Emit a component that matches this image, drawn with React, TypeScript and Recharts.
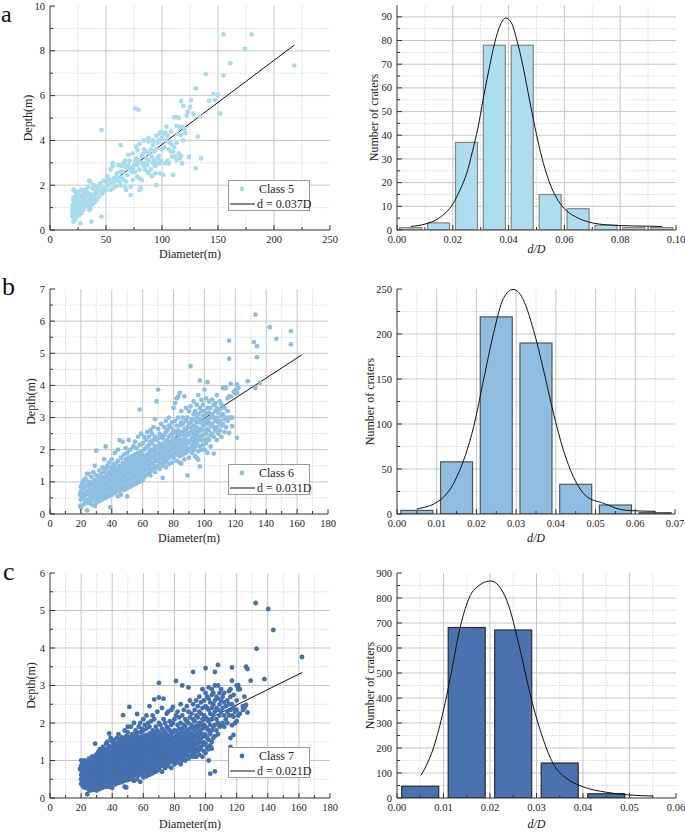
import React from 'react';
import { ComposedChart, Scatter, Line, Bar, XAxis, YAxis, ReferenceLine, Legend } from 'recharts';

// ---------------- data ----------------
// Class 5 (panel a) scatter: [Diameter m, Depth m]
const class5Points: [number, number][] = [
  [155,8.73],[180,8.73],[174,8.08],[218,7.34],[161,7.44],[139,6.96],[155,6.9],[130,6.32],[146,6.07],[150,6.03],
  [147,5.8],[142,5.77],[126,5.8],[117,5.76],[119,5.54],[152,5.2],[134,5.06],[123,5.28],[111,5.03],[113,5.05],
  [113,4.64],[118,4.6],[121,4.32],[117,4.24],[132,4.17],[108,4.39],[104,4.61],[98,4.32],[99,4.38],[101,4.3],
  [95,4.2],[92,4.0],[88,4.1],[84,4.0],[80,3.85],[77,3.72],[78,3.57],[76,5.43],[79,5.36],[46,4.46],
  [63,3.79],[86,3.5],[95,3.6],[92,3.8],[91,3.27],[97,3.3],[98,2.98],[103,2.98],[95,2.98],[94,2.85],
  [92,2.98],[88,3.1],[85,2.98],[82,2.98],[79,3.1],[77,3.2],[74,3.42],[71,3.1],[70,3.35],[67,3.1],
  [66,2.98],[64,2.85],[61,2.9],[56,2.98],[56,2.85],[60,2.53],[54,2.7],[50,2.16],[51,2.4],[48,2.2],
  [45,2.08],[42,1.93],[39,2.0],[36,2.16],[34,1.93],[33,1.7],[32,1.64],[30,1.64],[28,1.56],[27,1.34],
  [25,1.2],[24,1.4],[23,1.26],[22,1.04],[21,1.3],[20,0.9],[22,0.74],[22,0.45],[21,0.37],[20,0.6],
  [27,0.3],[46,0.6],[37,0.37],[30,0.9],[34,1.04],[35,0.89],[38,1.3],[41,1.4],[44,1.5],[47,1.64],
  [50,1.79],[54,1.79],[58,2.16],[62,2.16],[66,2.23],[68,2.16],[72,1.56],[68,1.79],[67,1.93],[72,1.93],
  [74,2.23],[78,2.38],[80,2.3],[82,2.23],[81,1.86],[80,1.79],[85,2.68],[88,2.53],[91,2.4],[95,2.0],
  [94,2.53],[98,2.53],[101,2.46],[106,2.98],[109,3.27],[112,3.27],[110,3.5],[109,3.8],[106,3.6],[115,3.42],
  [116,3.2],[117,3.3],[113,3.12],[118,2.98],[124,3.27],[130,2.75],[135,3.2],[110,2.46],
  [57,2.3],[59,2.4],[63,2.0],[65,2.6],[68,2.8],[70,2.9],[73,2.6],[75,2.9],[76,3.1],[82,3.3],
  [84,3.6],[86,3.2],[87,2.9],[89,3.4],[90,3.6],[93,3.5],[96,3.9],[100,3.6],[102,3.7],[104,4.0],
  [107,3.9],[100,4.1],[97,4.0],[88,3.95],[83,3.4],[80,2.7],[78,2.9],[76,2.6],[63,2.6],[61,2.3],
  [55,2.1],[52,2.0],[49,1.9],[47,1.8],[45,1.7],[43,1.75],[40,1.6],[39,1.5],[37,1.45],[36,1.6],
  [35,1.3],[33,1.5],[32,1.3],[31,1.45],[30,1.2],[29,1.35],[28,1.1],[27,1.0],[26,1.25],[25,0.95],
  [24,1.1],[23,0.85],[22,1.2],[21,1.45],[20,1.1],[20,0.75],[21,0.95],[22,0.6],[23,0.55],[24,0.7],
  [25,0.8],[26,0.65],[27,0.85],[28,0.75],[29,0.95],[31,1.05],[33,1.15],[35,1.1],[36,0.95],[38,1.15],
  [40,1.25],[42,1.35],[26,1.45],[24,1.55],[23,1.65],[22,1.75],[21,1.8],[25,1.7],[27,1.55],[28,1.8],
  [30,1.75],[29,1.5],[32,1.8],[35,2.2],[38,1.85],[41,1.75],[44,1.95],[53,2.25],[56,1.85],[59,1.95],
  [64,2.35],[69,2.45],[71,2.7],[74,2.75],[84,2.85],[87,2.6],[90,2.7],[93,3.1],[96,3.2],[99,3.1],
  [105,3.1],[108,3.5],[111,3.7],[113,3.9],[114,4.3],[116,4.6],[120,4.5],[119,4.0],[122,5.1],[125,5.5],
  [128,5.2],[115,5.0],[105,4.2],[103,4.35]
];
const class5Fit: [number, number][] = [[19.6, 0.8], [218, 8.25]];

// Class 6 (panel b): rows of [Diameter, depths at that diameter]
const class6Rows: [number, number[]][] = [
  [19.5,[0.25,0.6]],[20,[0.2,0.45,0.7,0.85]],[21,[0.5,0.65,0.95]],[22,[0.3,0.55,0.8,1.05]],[23,[0.4,0.65,0.9,1.1]],
  [24,[0.11,0.45,0.7,1.25]],[25,[0.35,0.6,0.85,1.0,1.25]],[26,[0.4,0.55,0.75,0.95]],[27,[0.3,0.5,0.7,0.9,1.15]],
  [28,[0.45,0.6,0.8,1.0,1.3]],[29,[0.25,0.5,0.65,0.85,1.05,1.5]],[30,[0.35,0.55,0.75,0.95,1.2,1.97]],
  [31,[0.45,0.6,0.8,1.0,1.15]],[32,[0.4,0.55,0.7,0.9,1.1,1.35]],[33,[0.5,0.65,0.85,1.05,1.25]],
  [34,[0.45,0.6,0.8,0.95,1.15,1.45]],[35,[0.55,0.7,0.9,1.1,1.3,1.7]],[36,[0.5,0.75,0.95,1.15,1.4,2.1]],
  [37,[0.6,0.8,1.0,1.2,1.5]],[38,[0.55,0.75,0.9,1.1,1.3,1.6]],[39,[0.21,0.65,0.85,1.05,1.25,1.45]],
  [40,[0.6,0.8,1.0,1.2,1.4,1.7]],[41,[0.7,0.9,1.1,1.3,1.55]],[42,[0.65,0.85,1.05,1.25,1.45,1.9]],
  [43,[0.75,0.95,1.15,1.35,1.6]],[44,[0.55,0.8,1.0,1.2,1.4,1.65,2.0]],[45,[0.7,0.9,1.1,1.3,1.5,2.3]],
  [46,[0.6,0.85,1.05,1.25,1.45,1.75]],[47,[0.8,1.0,1.2,1.4,1.6,2.25]],[48,[0.75,0.95,1.15,1.35,1.55,1.85]],
  [49,[0.85,1.05,1.25,1.45,1.7,2.05]],[50,[0.55,0.8,1.0,1.2,1.4,1.6,1.9]],[51,[0.9,1.1,1.3,1.5,1.75,2.3]],
  [52,[0.85,1.05,1.25,1.45,1.65,2.0]],[53,[0.95,1.15,1.35,1.55,1.8]],[54,[0.9,1.1,1.3,1.5,1.7,2.1]],
  [55,[1.0,1.2,1.4,1.6,1.85,2.25]],[56,[0.95,1.15,1.35,1.55,1.75,2.05]],[57,[1.05,1.25,1.45,1.65,1.9,2.4]],
  [58,[1.0,1.2,1.4,1.6,1.8,2.15,3.25]],[59,[1.1,1.3,1.5,1.7,1.95,2.5]],[60,[1.05,1.25,1.45,1.65,1.85,2.2]],
  [61,[1.15,1.35,1.55,1.75,2.0,2.4]],[62,[1.2,1.4,1.6,1.8,2.05,2.3]],[63,[1.25,1.45,1.65,1.85,2.1,2.55]],
  [64,[1.3,1.5,1.7,1.9,2.15,2.4]],[65,[1.2,1.4,1.6,1.8,2.0,2.25,2.6]],[66,[1.35,1.55,1.75,1.95,2.2,2.5]],
  [67,[1.4,1.6,1.8,2.0,2.3,2.7]],[68,[1.3,1.5,1.7,1.9,2.1,2.4,2.95]],[69,[1.45,1.65,1.85,2.05,2.3,3.5]],
  [70,[1.5,1.7,1.9,2.1,2.35,2.65,3.87]],[71,[1.4,1.6,1.8,2.0,2.2,2.5]],[72,[1.55,1.75,1.95,2.15,2.4,2.8]],
  [73,[1.12,1.5,1.7,1.9,2.1,2.35]],[74,[1.6,1.8,2.0,2.2,2.45,2.7]],[75,[1.45,1.65,1.85,2.05,2.25,2.55,2.9]],
  [76,[1.7,1.9,2.1,2.3,2.6]],[77,[1.55,1.75,1.95,2.15,2.4,2.75,3.0]],[78,[1.8,2.0,2.2,2.45,2.7]],
  [79,[1.6,1.85,2.05,2.25,2.5,2.85]],[80,[1.75,1.95,2.15,2.35,2.6,3.3]],[81,[1.9,2.1,2.3,2.55,2.9,3.45]],
  [82,[1.65,1.85,2.05,2.25,2.5,2.75,3.6]],[83,[1.95,2.15,2.35,2.6,3.0,3.65]],[84,[1.6,1.8,2.0,2.2,2.45,2.75,3.77]],
  [85,[1.57,1.9,2.1,2.3,2.55,2.85,3.2]],[86,[1.85,2.05,2.25,2.5,2.8,3.0]],[87,[1.7,2.0,2.2,2.4,2.65,3.66]],
  [88,[1.9,2.1,2.3,2.55,2.9,3.3]],[89,[1.2,1.95,2.2,2.45,2.7,3.0]],[90,[1.75,2.0,2.25,2.5,2.8,3.2]],
  [91,[2.05,2.3,2.55,2.85,3.35,4.6]],[92,[1.9,2.15,2.4,2.65,2.95]],[93,[2.0,2.25,2.5,2.75,3.1,3.5]],
  [94,[1.8,2.1,2.35,2.6,2.9,3.2]],[95,[1.75,2.2,2.45,2.7,3.0,3.4]],[96,[1.69,1.95,2.3,2.55,2.85,3.1,3.7]],
  [97,[1.48,2.1,2.4,2.65,2.95,3.3,4.15]],[98,[2.0,2.3,2.6,2.85,3.2,3.55]],[99,[2.15,2.45,2.75,3.05,3.4]],
  [100,[2.0,2.3,2.6,2.9,3.2,3.87]],[101,[2.2,2.5,2.8,3.1,3.6]],[102,[1.9,2.35,2.65,2.95,3.3,4.1]],
  [103,[2.3,2.6,2.85,3.15,3.5]],[104,[2.1,2.45,2.75,3.0,3.3]],[105,[2.5,2.8,3.1,3.56]],
  [106,[1.88,2.4,2.7,3.0,3.4]],[107,[2.6,2.9,3.2,3.45]],[108,[2.3,2.7,3.0,3.3,3.7]],[109,[2.5,2.85,3.15]],
  [110,[2.6,2.9,3.25,3.5]],[111,[2.4,2.75,3.05,3.4]],[112,[2.8,3.1,3.92]],[113,[2.55,2.95,3.3,3.92]],
  [114,[2.7,3.0,3.92]],[115,[2.9,3.2,3.6]],[116,[2.52,3.0,3.66,4.83,5.39]],[117,[3.0,3.66,4.05]],
  [118,[2.73,3.0]],[119,[3.8]],[120,[3.75,3.85]],[121,[2.37,3.77,4.03]],[122,[3.92]],[128,[4.13]],
  [132,[5.35]],[133,[6.2,3.92]],[134,[5.22,4.88]],[136,[4.08]],[142.3,[5.81]],[146.6,[5.45]],[156,[5.28,5.69]]
];
const class6Fit: [number, number][] = [[20.5, 0.49], [163, 4.95]];

// Class 7 (panel c): rows of [Diameter, depths at that diameter]
const class7Rows: [number, number[]][] = [
  [19.3,[0.78]],[20,[0.38,0.5,0.62,0.74,0.86,1.0]],[21,[0.32,0.44,0.56,0.68,0.8,0.92]],
  [22,[0.28,0.4,0.52,0.64,0.76,0.88,1.0]],[23,[0.34,0.46,0.58,0.7,0.82,0.94]],
  [24,[0.1,0.26,0.38,0.5,0.62,0.74,0.86,0.98]],[25,[0.22,0.34,0.46,0.58,0.7,0.82,0.94,1.05]],
  [26,[0.2,0.32,0.44,0.56,0.68,0.8,0.92,1.04]],[27,[0.26,0.38,0.5,0.62,0.74,0.86,0.98,1.1]],
  [28,[0.22,0.34,0.46,0.58,0.7,0.82,0.94,1.06]],[29,[0.28,0.4,0.52,0.64,0.76,0.88,1.0,1.12,1.45]],
  [30,[0.2,0.32,0.44,0.56,0.68,0.8,0.92,1.04,1.16]],[31,[0.26,0.38,0.5,0.62,0.74,0.86,0.98,1.1,1.22]],
  [32,[0.24,0.36,0.48,0.6,0.72,0.84,0.96,1.08,1.2,1.3]],[33,[0.3,0.42,0.54,0.66,0.78,0.9,1.02,1.14,1.26]],
  [34,[0.28,0.4,0.52,0.64,0.76,0.88,1.0,1.12,1.24,1.36]],[35,[0.34,0.46,0.58,0.7,0.82,0.94,1.06,1.18,1.3]],
  [36,[0.3,0.42,0.54,0.66,0.78,0.9,1.02,1.14,1.26,1.45]],[37,[0.36,0.48,0.6,0.72,0.84,0.96,1.08,1.2,1.32,1.5]],
  [38,[0.3,0.42,0.54,0.66,0.78,0.9,1.02,1.14,1.26,1.38,1.72]],[39,[0.36,0.48,0.6,0.72,0.84,0.96,1.08,1.2,1.32,1.6]],
  [40,[0.27,0.4,0.52,0.64,0.76,0.88,1.0,1.12,1.24,1.36,1.5]],[41,[0.46,0.58,0.7,0.82,0.94,1.06,1.18,1.3,1.42,1.55]],
  [42,[0.36,0.5,0.62,0.74,0.86,0.98,1.1,1.22,1.34,1.46]],[43,[0.44,0.56,0.68,0.8,0.92,1.04,1.16,1.28,1.4,1.6]],
  [44,[0.4,0.52,0.64,0.76,0.88,1.0,1.12,1.24,1.36,1.48,1.7]],[45,[0.48,0.6,0.72,0.84,0.96,1.08,1.2,1.32,1.44,1.56]],
  [46,[0.42,0.54,0.66,0.78,0.9,1.02,1.14,1.26,1.38,1.5,1.62]],[47,[0.5,0.62,0.74,0.86,0.98,1.1,1.22,1.34,1.46,1.58,2.21]],
  [48,[0.3,0.46,0.58,0.7,0.82,0.94,1.06,1.18,1.3,1.42,1.54,1.8]],[49,[0.28,0.52,0.64,0.76,0.88,1.0,1.12,1.24,1.36,1.48,1.65]],
  [50,[0.48,0.6,0.72,0.84,0.96,1.08,1.2,1.32,1.44,1.56,1.75,1.9]],[51,[0.55,0.67,0.79,0.91,1.03,1.15,1.27,1.39,1.51,1.63,2.43]],
  [52,[0.5,0.62,0.74,0.86,0.98,1.1,1.22,1.34,1.46,1.58,1.9]],[53,[0.56,0.68,0.8,0.92,1.04,1.16,1.28,1.4,1.52,1.7]],
  [54,[0.46,0.6,0.72,0.84,0.96,1.08,1.2,1.32,1.44,1.56,1.68,2.0]],[55,[0.62,0.74,0.86,0.98,1.1,1.22,1.34,1.46,1.58,1.8]],
  [56,[0.5,0.66,0.78,0.9,1.02,1.14,1.26,1.38,1.5,1.62,1.74,2.24]],[57,[0.6,0.72,0.84,0.96,1.08,1.2,1.32,1.44,1.56,1.9]],
  [58,[0.43,0.66,0.78,0.9,1.02,1.14,1.26,1.38,1.5,1.62,1.75,2.0]],[59,[0.64,0.76,0.88,1.0,1.12,1.24,1.36,1.48,1.6,1.85]],
  [60,[0.55,0.7,0.82,0.94,1.06,1.18,1.3,1.42,1.54,1.66,1.8,2.1]],[61,[0.68,0.8,0.92,1.04,1.16,1.28,1.4,1.52,1.64,1.95]],
  [62,[0.58,0.72,0.84,0.96,1.08,1.2,1.32,1.44,1.56,1.68,1.85,2.2]],[63,[0.7,0.82,0.94,1.06,1.18,1.3,1.42,1.54,1.66,2.0]],
  [64,[0.62,0.76,0.88,1.0,1.12,1.24,1.36,1.48,1.6,1.72,1.9,2.45]],[65,[0.74,0.86,0.98,1.1,1.22,1.34,1.46,1.58,1.7,2.05]],
  [66,[0.66,0.8,0.92,1.04,1.16,1.28,1.4,1.52,1.64,1.8,2.2]],[67,[0.76,0.9,1.02,1.14,1.26,1.38,1.5,1.62,1.75,2.1,2.63]],
  [68,[0.7,0.84,0.96,1.08,1.2,1.32,1.44,1.56,1.7,1.9]],[69,[0.8,0.94,1.06,1.18,1.3,1.42,1.54,1.66,1.8,2.3]],
  [70,[0.75,0.88,1.0,1.12,1.24,1.36,1.48,1.6,1.75,2.0,2.68,3.07]],[71,[0.84,0.98,1.1,1.22,1.34,1.46,1.58,1.72,1.95]],
  [72,[0.7,0.9,1.04,1.16,1.28,1.4,1.52,1.66,1.85,2.4]],[73,[0.86,1.0,1.14,1.26,1.38,1.5,1.64,1.8,2.1,2.65]],
  [74,[0.8,0.94,1.08,1.2,1.32,1.44,1.58,1.75,2.0]],[75,[0.9,1.04,1.18,1.3,1.42,1.56,1.7,1.9,2.25]],
  [76,[0.85,1.0,1.12,1.24,1.36,1.5,1.65,1.85,2.3]],[77,[0.95,1.08,1.2,1.32,1.46,1.6,1.8,2.05]],
  [78,[0.8,0.98,1.12,1.26,1.4,1.54,1.7,1.95,2.35]],[79,[1.0,1.14,1.28,1.42,1.56,1.75,2.0,2.43]],
  [80,[0.9,1.04,1.18,1.32,1.46,1.6,1.8,2.1]],[81,[1.0,1.14,1.3,1.45,1.6,1.78,2.2,3.12]],
  [82,[0.95,1.1,1.24,1.38,1.52,1.7,1.95,2.3]],[83,[1.05,1.2,1.35,1.5,1.65,1.85,2.15]],
  [84,[0.9,1.1,1.26,1.42,1.58,1.75,2.0,2.5]],[85,[1.0,1.16,1.32,1.48,1.64,1.85,2.2,3.0]],
  [86,[1.1,1.26,1.42,1.58,1.76,1.95,2.35]],[87,[1.0,1.2,1.36,1.52,1.7,1.9,2.1]],
  [88,[1.15,1.3,1.46,1.62,1.8,2.05,2.45]],[89,[1.05,1.24,1.4,1.56,1.74,2.0,2.3,2.95]],
  [90,[1.1,1.3,1.48,1.66,1.85,2.15,2.6]],[91,[1.2,1.36,1.54,1.72,1.95,2.25]],
  [92,[1.1,1.28,1.46,1.64,1.85,2.1,2.5,3.36]],[93,[1.2,1.4,1.6,1.8,2.05,2.35]],
  [94,[1.1,1.3,1.5,1.7,1.92,2.2,2.6]],[95,[1.25,1.45,1.65,1.88,2.15,2.45]],
  [96,[1.15,1.35,1.56,1.78,2.0,2.3,2.7]],[97,[1.3,1.5,1.72,1.95,2.25,2.55]],
  [98,[1.1,1.4,1.62,1.85,2.1,2.4,2.9]],[99,[1.25,1.48,1.7,1.95,2.2,2.6]],
  [100,[1.2,1.45,1.68,1.9,2.15,2.45,2.8,3.46]],[101,[1.35,1.6,1.85,2.1,2.4,2.7]],
  [102,[1.0,1.3,1.55,1.8,2.05,2.35,2.65,2.95]],[103,[0.65,1.4,1.7,1.95,2.25,2.55]],
  [104,[1.32,1.5,1.8,2.1,2.4,2.75,2.9]],[105,[1.6,1.9,2.2,2.5,2.8]],
  [106,[0.71,1.65,1.95,2.3,2.6,3.0,3.36]],[107,[1.8,2.1,2.4,2.7]],[108,[1.7,2.0,2.35,2.65,3.0,3.55]],
  [109,[1.9,2.2,2.5,2.8]],[110,[1.95,2.3,2.6,2.9]],[111,[2.0,2.4,2.7]],[112,[1.9,2.2,2.55,2.8]],
  [113,[2.1,2.45]],[114,[2.0,2.3,2.6]],[115,[2.2,2.5,2.85]],[116,[1.36,1.6,2.35,2.7,2.9]],
  [117,[1.94,2.2,2.5,3.13,3.48]],[118,[1.68,2.17,2.4,2.75]],[119,[2.0,2.3]],[120,[2.05,2.35,2.6,3.0]],
  [121,[2.2,2.9,3.01]],[122,[2.25,2.9]],[124,[2.35,2.45]],[125,[2.4,2.7]],[126,[2.48,3.5]],[127,[2.28,3.44]],
  [129,[3.13]],[132.2,[5.2]],[132.8,[3.98]],[137.8,[3.17]],[140.3,[5.04]],[143.6,[4.48]],[162,[3.76]]
];
const class7Fit: [number, number][] = [[19.9, 0.42], [162.2, 3.35]];

// Histograms: bin centres (d/D) and counts, plus fitted curve
const class5BinCenters = [0.005, 0.015, 0.025, 0.035, 0.045, 0.055, 0.065, 0.075, 0.085, 0.095];
const class5Counts = [1, 3, 37, 78, 78, 15, 9, 2, 1, 1];
const class5Curve: [number, number][] = [
  [0.005,1.5],[0.01,2.5],[0.015,5],[0.02,11],[0.023,18],[0.025,24],[0.027,33],[0.029,43],[0.031,56],
  [0.033,68],[0.035,79],[0.037,86.5],[0.039,89.5],[0.041,87.5],[0.043,80],[0.045,70],[0.047,58],[0.049,46],
  [0.051,35],[0.053,26],[0.055,19],[0.058,12],[0.06,9],[0.065,5],[0.07,3],[0.075,2.2],[0.085,1.7],[0.095,1.5]
];
const class6BinCenters = [0.005, 0.015, 0.025, 0.035, 0.045, 0.055, 0.065];
const class6Counts = [4, 58, 219, 190, 33, 10, 1.5];
const class6Curve: [number, number][] = [
  [0.005,5.6],[0.0109,15.6],[0.0151,41.5],[0.0193,97],[0.0218,149],[0.0243,200.7],[0.0268,239.6],[0.0292,249.6],
  [0.0314,241.5],[0.0344,204],[0.0369,160],[0.0394,112],[0.0419,71],[0.0444,41.5],[0.0478,19.3],[0.052,11.9],
  [0.0562,5.2],[0.06,3.5],[0.065,3]
];
const class7BinCenters = [0.005, 0.015, 0.025, 0.035, 0.045];
const class7Counts = [47, 682, 672, 140, 17];
const class7Curve: [number, number][] = [
  [0.0052,91],[0.0079,204],[0.01,351],[0.0115,484],[0.0136,684],[0.0165,831],[0.0202,868],[0.0236,791],
  [0.0265,591],[0.0286,417],[0.0308,271],[0.0336,137],[0.0365,78],[0.04,45],[0.045,23],[0.05,12],[0.055,8]
];

// Tick values
const aSXMajor = [0, 50, 100, 150, 200, 250];
const aSXMinor = [25, 75, 125, 175, 225];
const aSYMajor = [0, 2, 4, 6, 8, 10];
const aSYMinor = [1, 3, 5, 7, 9];
const aHXMajor = [0, 0.02, 0.04, 0.06, 0.08, 0.1];
const aHXMinor = [0.01, 0.03, 0.05, 0.07, 0.09];
const aHYMajor = [0, 10, 20, 30, 40, 50, 60, 70, 80, 90];
const aHYMinor = [5, 15, 25, 35, 45, 55, 65, 75, 85];
const bcSXMajor = [0, 20, 40, 60, 80, 100, 120, 140, 160, 180];
const bcSXMinor = [10, 30, 50, 70, 90, 110, 130, 150, 170];
const bSYMajor = [0, 1, 2, 3, 4, 5, 6, 7];
const bSYMinor = [0.5, 1.5, 2.5, 3.5, 4.5, 5.5, 6.5];
const bHXMajor = [0, 0.01, 0.02, 0.03, 0.04, 0.05, 0.06, 0.07];
const bHXMinor = [0.005, 0.015, 0.025, 0.035, 0.045, 0.055, 0.065];
const bHYMajor = [0, 50, 100, 150, 200, 250];
const bHYMinor = [25, 75, 125, 175, 225];
const cSYMajor = [0, 1, 2, 3, 4, 5, 6];
const cSYMinor = [0.5, 1.5, 2.5, 3.5, 4.5, 5.5];
const cHXMajor = [0, 0.01, 0.02, 0.03, 0.04, 0.05, 0.06];
const cHXMinor = [0.005, 0.015, 0.025, 0.035, 0.045, 0.055];
const cHYMajor = [0, 100, 200, 300, 400, 500, 600, 700, 800, 900];
const cHYMinor = [50, 150, 250, 350, 450, 550, 650, 750, 850];

// ---------------- helpers ----------------
const FONT = '"Times New Roman", "Liberation Serif", serif';
const AXIS = '#333333';
const TXT = '#222222';
const GRID_MAJOR = '#c6c6c6';
const GRID_MINOR = '#cfcfcf';

const pairs = (arr: [number, number][]) => arr.map(([x, y]) => ({ x, y }));
const rows = (arr: [number, number[]][]) => arr.flatMap(([x, ys]) => ys.map((y) => ({ x, y })));
const bins = (xs: number[], ys: number[]) => xs.map((x, i) => ({ x, y: ys[i] }));
const has = (arr: number[], v: number) => arr.some((m) => Math.abs(m - v) < 1e-9);
const fmtInt = (v: number) => String(v);
const fmt2 = (v: number) => v.toFixed(2);

type Frame = {
  xDomain: [number, number]; yDomain: [number, number];
  xMajor: number[]; xMinor: number[]; yMajor: number[]; yMinor: number[];
  xFmt: (v: number) => string; yFmt: (v: number) => string;
  xTitle: string; xItalic?: boolean; xTitleOffset: number; xH: number;
  yTitle: string; yW: number;
};

function gridLines(f: Frame) {
  const els: any[] = [];
  const inX = (v: number) => v > f.xDomain[0] + 1e-9 && v < f.xDomain[1] - 1e-9;
  const inY = (v: number) => v > f.yDomain[0] + 1e-9 && v < f.yDomain[1] - 1e-9;
  f.xMinor.filter(inX).forEach((v) => els.push(
    <ReferenceLine key={'xm' + v} x={v} xAxisId="b" yAxisId="l" stroke={GRID_MINOR} strokeDasharray="1 1.5" strokeWidth={1} zIndex={-50} />));
  f.yMinor.filter(inY).forEach((v) => els.push(
    <ReferenceLine key={'ym' + v} y={v} xAxisId="b" yAxisId="l" stroke={GRID_MINOR} strokeDasharray="1 1.5" strokeWidth={1} zIndex={-50} />));
  f.xMajor.filter(inX).forEach((v) => els.push(
    <ReferenceLine key={'xM' + v} x={v} xAxisId="b" yAxisId="l" stroke={GRID_MAJOR} strokeWidth={1} zIndex={-50} />));
  f.yMajor.filter(inY).forEach((v) => els.push(
    <ReferenceLine key={'yM' + v} y={v} xAxisId="b" yAxisId="l" stroke={GRID_MAJOR} strokeWidth={1} zIndex={-50} />));
  return els;
}

function axes(f: Frame) {
  const xAll = [...f.xMajor, ...f.xMinor].sort((a, b) => a - b);
  const yAll = [...f.yMajor, ...f.yMinor].sort((a, b) => a - b);
  const len = (maj: boolean) => (maj ? 5 : 3);
  const bottomTick = (p: any) => {
    const v = p.payload.value; const maj = has(f.xMajor, v);
    return (
      <g>
        <line x1={p.x} y1={p.y} x2={p.x} y2={p.y - len(maj)} stroke={AXIS} strokeWidth={1} />
        {maj && <text x={p.x} y={p.y + 13} textAnchor="middle" fontSize={10.5} fontFamily={FONT} fill={TXT}>{f.xFmt(v)}</text>}
      </g>
    );
  };
  const topTick = (p: any) => {
    const maj = has(f.xMajor, p.payload.value);
    return <line x1={p.x} y1={p.y} x2={p.x} y2={p.y + len(maj)} stroke={AXIS} strokeWidth={1} />;
  };
  const leftTick = (p: any) => {
    const v = p.payload.value; const maj = has(f.yMajor, v);
    return (
      <g>
        <line x1={p.x} y1={p.y} x2={p.x + len(maj)} y2={p.y} stroke={AXIS} strokeWidth={1} />
        {maj && <text x={p.x - 5} y={p.y + 3.6} textAnchor="end" fontSize={10.5} fontFamily={FONT} fill={TXT}>{f.yFmt(v)}</text>}
      </g>
    );
  };
  const rightTick = (p: any) => {
    const maj = has(f.yMajor, p.payload.value);
    return <line x1={p.x} y1={p.y} x2={p.x - len(maj)} y2={p.y} stroke={AXIS} strokeWidth={1} />;
  };
  const common = { tickSize: 0, tickMargin: 0, tickLine: false, interval: 0 as const, allowDataOverflow: true, axisLine: { stroke: AXIS, strokeWidth: 1 } };
  return [
    <XAxis key="xb" xAxisId="b" dataKey="x" type="number" domain={f.xDomain} ticks={xAll} height={f.xH} tick={bottomTick} {...common}
      label={{ value: f.xTitle, position: 'insideBottom', offset: f.xTitleOffset, fontSize: 12, fontFamily: FONT, fontStyle: f.xItalic ? 'italic' : 'normal', fill: TXT }} />,
    <XAxis key="xt" xAxisId="t" orientation="top" type="number" domain={f.xDomain} ticks={xAll} height={0} tick={topTick} {...common} />,
    <YAxis key="yl" yAxisId="l" dataKey="y" type="number" domain={f.yDomain} ticks={yAll} width={f.yW} tick={leftTick} {...common}
      label={{ value: f.yTitle, angle: -90, position: 'center', fontSize: 12, fontFamily: FONT, fill: TXT }} />,
    <YAxis key="yr" yAxisId="r" orientation="right" type="number" domain={f.yDomain} ticks={yAll} width={0} tick={rightTick} {...common} />,
  ];
}

const legendContent = (props: any) => {
  const items = [...(props.payload || [])].sort((a: any, b: any) => (a.type === 'line' ? 1 : 0) - (b.type === 'line' ? 1 : 0));
  return (
    <div style={{ width: 82, height: 31, boxSizing: 'border-box', border: '1px solid #9a9a9a', background: '#fff', fontFamily: FONT, fontSize: 12, color: TXT, position: 'relative' }}>
      {items.map((e: any, i: number) => (
        <div key={i} style={{ position: 'absolute', left: 0, top: i === 0 ? 1 : 15.5, height: 14, display: 'flex', alignItems: 'center', whiteSpace: 'nowrap' }}>
          <svg width={27} height={14} style={{ display: 'block' }}>
            {e.type === 'line'
              ? <line x1={1} y1={7} x2={26} y2={7} stroke="#111" strokeWidth={1} />
              : <circle cx={13} cy={7} r={2.4} fill={e.color} />}
          </svg>
          <span style={{ marginLeft: e.type === 'line' ? 1 : 3, lineHeight: '14px' }}>{e.value}</span>
        </div>
      ))}
    </div>
  );
};

type Box = { left: number; top: number; width: number; height: number; margin: { top: number; right: number; bottom: number; left: number } };

function ScatterPanel(props: { box: Box; frame: Frame; points: { x: number; y: number }[]; fit: { x: number; y: number }[]; color: string; name: string; fitName: string; legend: { left: number; top: number } }) {
  const { box, frame, points, fit, color, name, fitName, legend } = props;
  const dot = (p: any) => <circle cx={p.cx} cy={p.cy} r={2.4} fill={color} />;
  return (
    <div style={{ position: 'absolute', left: box.left, top: box.top, width: box.width, height: box.height }}>
      <ComposedChart width={box.width} height={box.height} margin={box.margin}>
        {gridLines(frame)}
        <Scatter name={name} data={points} xAxisId="b" yAxisId="l" fill={color} legendType="circle" shape={dot} isAnimationActive={false} />
        <Line name={fitName} data={fit} dataKey="y" xAxisId="b" yAxisId="l" type="linear" stroke="#111" strokeWidth={1} dot={false} activeDot={false} legendType="line" isAnimationActive={false} />
        {axes(frame)}
        <Legend layout="vertical" align="center" verticalAlign="middle" content={legendContent}
          wrapperStyle={{ left: legend.left, top: legend.top, width: 82, height: 31 }} />
      </ComposedChart>
    </div>
  );
}

function HistPanel(props: { box: Box; frame: Frame; data: { x: number; y: number }[]; curve: { x: number; y: number }[]; fill: string; stroke: string; barSize: number }) {
  const { box, frame, data, curve, fill, stroke, barSize } = props;
  // bar centred on the library's x position, height from the library's y scale
  const barShape = (p: any) => {
    const cx = p.x + p.width / 2;
    const h = Math.abs(p.height);
    const top = p.height >= 0 ? p.y : p.y + p.height;
    return <rect x={cx - barSize / 2} y={top} width={barSize} height={h} fill={fill} stroke={stroke} strokeWidth={1.2} />;
  };
  return (
    <div style={{ position: 'absolute', left: box.left, top: box.top, width: box.width, height: box.height }}>
      <ComposedChart width={box.width} height={box.height} margin={box.margin} data={data}>
        {gridLines(frame)}
        <Bar dataKey="y" xAxisId="b" yAxisId="l" barSize={barSize} fill={fill} stroke={stroke} shape={barShape} isAnimationActive={false} />
        <Line data={curve} dataKey="y" xAxisId="b" yAxisId="l" type="monotone" stroke="#111" strokeWidth={1} dot={false} activeDot={false} isAnimationActive={false} />
        {axes(frame)}
      </ComposedChart>
    </div>
  );
}

const frameAS: Frame = { xDomain: [0, 250], yDomain: [0, 10], xMajor: aSXMajor, xMinor: aSXMinor, yMajor: aSYMajor, yMinor: aSYMinor, xFmt: fmtInt, yFmt: fmtInt, xTitle: 'Diameter(m)', xTitleOffset: 2, xH: 30, yTitle: 'Depth(m)', yW: 44 };
const frameAH: Frame = { xDomain: [0, 0.1], yDomain: [0, 95], xMajor: aHXMajor, xMinor: aHXMinor, yMajor: aHYMajor, yMinor: aHYMinor, xFmt: fmt2, yFmt: fmtInt, xTitle: 'd/D', xItalic: true, xTitleOffset: 7, xH: 30, yTitle: 'Number of craters', yW: 47 };
const frameBS: Frame = { xDomain: [0, 180], yDomain: [0, 7], xMajor: bcSXMajor, xMinor: bcSXMinor, yMajor: bSYMajor, yMinor: bSYMinor, xFmt: fmtInt, yFmt: fmtInt, xTitle: 'Diameter(m)', xTitleOffset: 2, xH: 30, yTitle: 'Depth(m)', yW: 38 };
const frameBH: Frame = { xDomain: [0, 0.07], yDomain: [0, 250], xMajor: bHXMajor, xMinor: bHXMinor, yMajor: bHYMajor, yMinor: bHYMinor, xFmt: fmt2, yFmt: fmtInt, xTitle: 'd/D', xItalic: true, xTitleOffset: 2, xH: 30, yTitle: 'Number of craters', yW: 54 };
const frameCS: Frame = { xDomain: [0, 180], yDomain: [0, 6], xMajor: bcSXMajor, xMinor: bcSXMinor, yMajor: cSYMajor, yMinor: cSYMinor, xFmt: fmtInt, yFmt: fmtInt, xTitle: 'Diameter(m)', xTitleOffset: 3.5, xH: 33, yTitle: 'Depth(m)', yW: 38 };
const frameCH: Frame = { xDomain: [0, 0.06], yDomain: [0, 900], xMajor: cHXMajor, xMinor: cHXMinor, yMajor: cHYMajor, yMinor: cHYMinor, xFmt: fmt2, yFmt: fmtInt, xTitle: 'd/D', xItalic: true, xTitleOffset: 3, xH: 33, yTitle: 'Number of craters', yW: 54 };

export default function App() {
  return (
    <div style={{ position: 'absolute', left: 0, top: 0, width: 685, height: 833, background: '#fff', fontFamily: FONT }}>
      <ScatterPanel box={{ left: 0, top: 0, width: 340, height: 265, margin: { top: 6, right: 10, bottom: 5, left: 6 } }}
        frame={frameAS} points={pairs(class5Points)} fit={pairs(class5Fit)} color="#A9DBEE" name="Class 5" fitName="d = 0.037D" legend={{ left: 228, top: 180 }} />
      <HistPanel box={{ left: 340, top: 0, width: 345, height: 265, margin: { top: 5, right: 9, bottom: 5, left: 10 } }}
        frame={frameAH} data={bins(class5BinCenters, class5Counts)} curve={pairs(class5Curve)} fill="#ADDCEE" stroke="#858585" barSize={22} />
      <ScatterPanel box={{ left: 0, top: 265, width: 340, height: 285, margin: { top: 24, right: 12, bottom: 6, left: 12 } }}
        frame={frameBS} points={rows(class6Rows)} fit={pairs(class6Fit)} color="#8DBEE2" name="Class 6" fitName="d = 0.031D" legend={{ left: 228, top: 199 }} />
      <HistPanel box={{ left: 340, top: 265, width: 345, height: 285, margin: { top: 24, right: 10, bottom: 6, left: 3 } }}
        frame={frameBH} data={bins(class6BinCenters, class6Counts)} curve={pairs(class6Curve)} fill="#8EBDE1" stroke="#555555" barSize={32} />
      <ScatterPanel box={{ left: 0, top: 550, width: 340, height: 283, margin: { top: 23, right: 10, bottom: 2, left: 12 } }}
        frame={frameCS} points={rows(class7Rows)} fit={pairs(class7Fit)} color="#4470B0" name="Class 7" fitName="d = 0.021D" legend={{ left: 228, top: 197 }} />
      <HistPanel box={{ left: 340, top: 550, width: 345, height: 283, margin: { top: 23, right: 9, bottom: 2, left: 3 } }}
        frame={frameCH} data={bins(class7BinCenters, class7Counts)} curve={pairs(class7Curve)} fill="#4A72B0" stroke="#2a2a2a" barSize={37} />
      <svg width={685} height={833} style={{ position: 'absolute', left: 0, top: 0, pointerEvents: 'none' }}>
        <text x={1} y={21.5} fontSize={24} fontFamily={FONT} fill="#111">a</text>
        <text x={2} y={295} fontSize={26} fontFamily={FONT} fill="#111">b</text>
        <text x={3} y={580} fontSize={26} fontFamily={FONT} fill="#111">c</text>
      </svg>
    </div>
  );
}
